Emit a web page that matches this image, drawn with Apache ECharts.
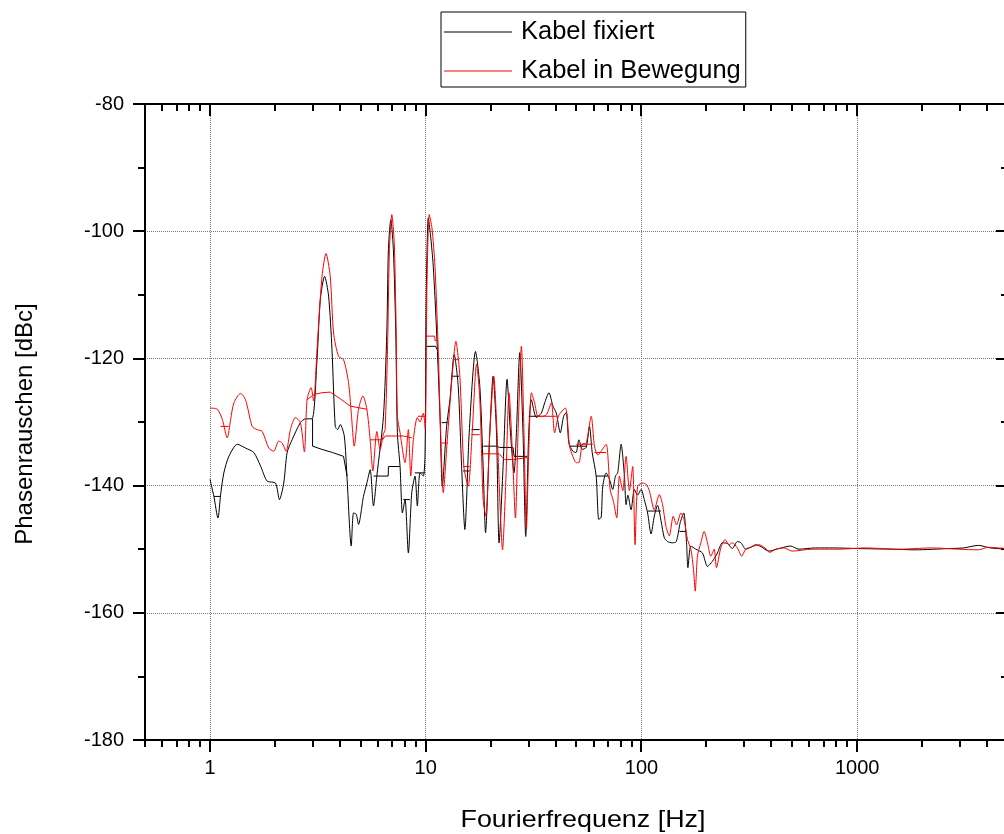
<!DOCTYPE html>
<html><head><meta charset="utf-8">
<script src="https://cdn.jsdelivr.net/npm/echarts@6/dist/echarts.min.js"></script>
<style>html,body{margin:0;padding:0;background:#fff}#c{width:1004px;height:834px}</style>
</head><body><div id="c"></div>
<script>
// ---- data ----
const seriesNames = ['Kabel fixiert', 'Kabel in Bewegung'];

const fixFreq = [1.00,1.043,1.089,1.12,1.16,1.224,1.339,1.462,1.597,1.715,1.842,2.012,2.10,2.198,2.279,2.403,2.625,2.769,2.973,3.135,3.248,3.40,3.548,3.678,3.808,3.904,4.018,4.194,4.315,4.517,4.629,4.764,4.882,5.147,5.338,5.528,5.726,5.936,6.37,6.603,6.716,6.89,7.083,7.267,7.392,7.607,7.80,8.02,8.31,8.618,8.925,9.146,9.412,9.748,9.93,10.06,10.28,10.52,10.84,11.24,11.65,11.94,12.50,12.95,13.56,14.15,14.67,15.19,15.91,17.02,17.82,18.46,18.94,19.82,20.53,21.29,21.88,22.84,23.83,24.71,25.67,26.33,27.28,28.25,29.08,30.03,30.90,32.58,34.36,35.59,37.25,38.87,40.31,42.06,43.57,44.84,46.09,48.10,49.77,51.28,53.17,55.46,57.44,59.12,61.69,63.42,65.06,66.18,68.62,71.08,73.61,75.76,77.62,80.48,83.37,84.88,86.53,89.51,92.73,96.0,99.6,103.1,106.8,110.8,114.7,118.8,123.2,127.6,132.2,138.9,145.0,151.3,157.0,161.8,164.2,169.5,178.7,191.8,202.3,213.3,225.0,237.3,250.2,263.9,278.3,289.5,304.3,321.0,338.5,358.1,389.9,433.8,491.3,536.6,641.0,778.7,1016,1448,1858,2648,3106,3643,4140,5000];
const fixVal = [-139.0,-141.7,-145.1,-141.5,-138.0,-135.4,-133.5,-134.1,-134.8,-136.9,-139.3,-139.6,-142.2,-139.6,-134.8,-132.8,-130.1,-129.5,-129.5,-120.2,-110.7,-107.1,-110.2,-118.6,-130.7,-131.2,-130.4,-132.2,-138.5,-149.5,-144.3,-144.5,-146.1,-141.7,-139.6,-137.5,-143.2,-138.5,-129.1,-116.0,-102.9,-98.2,-102.9,-116.0,-131.7,-137.0,-144.3,-142.2,-150.6,-141.1,-138.5,-143.2,-138.0,-138.5,-135.0,-110.0,-97.9,-100.5,-105.5,-116.0,-129.1,-140.1,-130.7,-126.5,-119.4,-124.4,-137.0,-146.9,-131.7,-118.9,-124.4,-137.0,-147.4,-131.7,-122.8,-131.7,-149.0,-137.0,-123.3,-131.7,-138.0,-131.7,-119.1,-131.7,-148.0,-131.7,-126.5,-129.3,-128.6,-127.0,-125.4,-127.5,-128.6,-131.7,-129.1,-128.5,-133.3,-134.6,-134.8,-132.8,-134.3,-134.0,-130.7,-134.8,-138.5,-145.3,-145.0,-140.1,-138.0,-139.0,-140.6,-138.5,-138.0,-133.5,-138.5,-143.0,-141.5,-143.8,-140.6,-141.5,-140.6,-142.2,-144.3,-147.6,-144.8,-143.1,-145.5,-148.2,-148.8,-149.0,-148.8,-145.8,-144.3,-149.0,-152.9,-149.5,-150.0,-150.6,-152.7,-151.9,-150.6,-149.0,-149.1,-149.9,-148.8,-149.0,-150.0,-149.7,-149.3,-149.6,-150.3,-149.9,-149.5,-150.0,-149.8,-149.8,-149.9,-150.0,-150.1,-149.9,-149.8,-149.4,-149.8,-150.0];

const moveFreq = [1.00,1.082,1.141,1.203,1.247,1.291,1.386,1.462,1.570,1.656,1.747,1.874,1.975,2.084,2.161,2.255,2.36,2.489,2.625,2.74,2.819,2.942,3.024,3.135,3.307,3.451,3.61,3.741,3.947,4.162,4.388,4.517,4.664,4.882,5.115,5.338,5.528,5.689,5.936,6.149,6.37,6.485,6.66,6.789,6.966,7.152,7.29,7.392,7.607,8.02,8.31,8.526,8.764,9.146,9.412,9.748,9.95,10.14,10.39,10.69,11.04,11.43,11.73,12.06,12.59,13.19,13.80,14.40,15.03,15.74,16.42,17.21,17.82,18.46,19.0,19.82,20.68,21.42,22.22,22.69,23.5,24.34,25.23,26.06,26.79,27.77,28.55,29.29,30.03,30.90,32.0,33.15,34.95,36.36,38.22,39.58,41.3,44.36,46.43,48.10,49.87,51.28,53.17,55.46,58.5,60.57,62.87,65.27,68.62,71.61,74.17,76.82,79.06,81.88,84.88,87.94,91.06,93.41,96.0,101.3,105.3,108.8,114.7,121.0,125.3,129.9,134.6,140.4,145.4,152.4,157.9,163.5,169.5,174.3,177.5,181.9,188.5,195.3,202.3,209.7,217.3,222.6,233.3,244.2,254.8,263.9,278.3,291.7,304.3,326.5,350.6,373.8,392.9,418.8,457.5,499.5,616.3,821,1091,1555,2210,2944,3643,4052,4507,5000];
const moveVal = [-127.8,-128.0,-129.6,-132.5,-129.6,-127.0,-125.5,-126.5,-130.7,-131.2,-131.5,-134.1,-134.6,-133.0,-133.3,-134.6,-131.2,-129.3,-130.1,-134.7,-126.5,-124.6,-126.7,-118.6,-107.1,-103.5,-107.1,-116.0,-119.7,-120.2,-123.8,-128.5,-133.8,-128.0,-125.9,-128.0,-132.8,-137.7,-131.5,-134.3,-131.9,-131.2,-118.0,-103.0,-97.4,-102.0,-115.0,-129.1,-131.7,-136.4,-131.2,-138.5,-132.8,-129.3,-130.0,-128.6,-131.0,-108.0,-97.4,-99.5,-105.5,-118.6,-131.7,-141.1,-132.8,-123.8,-117.3,-122.8,-137.0,-140.1,-131.7,-120.9,-126.5,-142.2,-144.8,-131.7,-122.8,-131.7,-144.8,-150.1,-139.6,-125.4,-134.8,-145.1,-131.7,-118.1,-131.7,-146.9,-134.8,-125.4,-127.0,-129.1,-129.1,-128.8,-127.0,-131.7,-129.0,-127.8,-133.8,-135.4,-136.4,-136.4,-133.5,-133.3,-129.1,-133.8,-135.2,-134.5,-133.5,-140.6,-142.5,-145.1,-138.5,-140.8,-135.4,-140.8,-137.0,-149.3,-140.1,-139.6,-139.8,-140.8,-143.8,-141.4,-143.0,-146.4,-147.9,-144.8,-146.2,-144.3,-145.5,-148.5,-150.0,-153.2,-156.6,-151.0,-149.0,-147.2,-149.0,-151.1,-150.0,-152.9,-149.8,-148.5,-149.3,-149.0,-149.8,-151.1,-150.0,-149.6,-149.3,-149.8,-150.5,-150.0,-149.8,-150.3,-150.0,-150.0,-149.8,-150.0,-149.8,-150.0,-150.1,-149.7,-149.8,-149.9];

// coarse (averaged) traces drawn on top of the fine traces, as segments
const fixStepFreq = [[1.043,1.12],[2.99,2.99,3.3,3.7,4.16,4.32],[5.73,6.7,6.72,7.6],[7.87,8.46],[8.9,9.9],[10.06,11.1,11.3],[11.86,12.6],[13.16,14.3],[14.9,16.0],[16.3,17.8],[18.5,21.3,22.0,25.4,25.7,29.5],[30.0,33.5],[46.5,55.5],[61.7,69.9],[106.8,123],[150,161]];
const fixStepVal  = [[-141.7,-141.7],[-129.5,-133.8,-134.3,-134.8,-135.4,-138.5],[-138.5,-138.5,-137.0,-137.0],[-142.2,-142.2],[-138.0,-138.0],[-118.1,-118.1,-118.6],[-130.1,-130.1],[-122.8,-122.8],[-137.7,-137.7],[-131.2,-131.2],[-133.8,-133.8,-134.0,-134.0,-135.4,-135.4],[-129.1,-129.1],[-133.8,-133.8],[-138.5,-138.5],[-144.0,-144.0],[-147.2,-147.2]];
const moveStepFreq = [[1.12,1.22],[2.82,3.02,3.3,3.61,4.0,4.47,5.34],[5.53,6.3,6.5,7.88,7.95,8.62],[9.21,9.93],[10.0,11.0,11.05,11.4],[11.86,12.7],[13.4,14.2],[14.9,16.0],[16.3,17.8],[18.3,21.9,23.2,25.4,25.9,29.7],[32.6,40.3],[49.9,59.6],[60.6,68.5]];
const moveStepVal  = [[-130.7,-130.7],[-126.5,-125.7,-125.4,-125.3,-126.3,-127.5,-128.0],[-132.8,-132.8,-132.2,-132.2,-132.5,-132.5],[-129.1,-129.1],[-116.5,-116.5,-117.2,-117.2],[-133.3,-133.3],[-120.2,-120.2],[-137.0,-137.0],[-132.0,-132.0],[-135.0,-135.0,-135.9,-135.9,-135.6,-135.6],[-129.1,-129.1],[-133.5,-133.5],[-134.8,-134.8]];

// axis ticks / labels
const xMajorTicks = [1, 10, 100, 1000];
const xTickLabels = ['1', '10', '100', '1000'];
const xMinorTicks = [0.5,0.6,0.7,0.8,0.9,2,3,4,5,6,7,8,9,20,30,40,50,60,70,80,90,200,300,400,500,600,700,800,900,2000,3000,4000];
const xMin = 0.5, xMax = 5000;
const yMin = -180, yMax = -80, yStep = 20;

// ---- build ----
function pairs(f, v) { return f.map((x, i) => [x, v[i]]); }
function segs(fs, vs) {
  const out = [];
  fs.forEach((f, k) => {
    f.forEach((x, i) => out.push([x, vs[k][i]]));
    out.push([f[f.length - 1], '-']);
  });
  return out;
}
const tickData = xMajorTicks.map(v => [v, 1]).concat(xMinorTicks.map(v => [v, 0]));

const chart = echarts.init(document.getElementById('c'), null, {renderer: 'canvas'});
const FONT = 'Liberation Sans, Arial, sans-serif';
const grid = {left: 145, right: -4, top: 104, bottom: 94, outerBoundsMode: 'none', containLabel: false};
const dotted = {color: '#7a7a7a', width: 1, type: [1, 1]};

chart.setOption({
  animation: false,
  backgroundColor: '#fff',
  textStyle: {fontFamily: FONT},
  grid: grid,
  legend: {
    data: seriesNames,
    orient: 'vertical',
    left: 441, top: 12,
    padding: [7, 5, 3, 3],
    itemGap: 13,
    icon: 'rect',
    itemWidth: 68, itemHeight: 1,
    borderColor: '#000', borderWidth: 1,
    backgroundColor: '#fff',
    textStyle: {fontSize: 25.5, color: '#000', fontFamily: FONT, padding: [0, 0, 0, 4]},
    selectedMode: false
  },
  xAxis: [{
    type: 'log', logBase: 10, min: xMin, max: xMax, position: 'bottom',
    axisLine: {onZero: false, lineStyle: {color: '#000', width: 2}},
    axisTick: {show: false},
    axisLabel: {
      color: '#000', fontSize: 20, fontFamily: FONT, margin: 18,
      formatter: function (v) {
        const i = xMajorTicks.findIndex(m => Math.abs(m - v) / m < 1e-6);
        return i >= 0 ? xTickLabels[i] : '';
      }
    },
    splitLine: {show: true, lineStyle: dotted}
  }, {
    type: 'log', logBase: 10, min: xMin, max: xMax, position: 'top',
    axisLine: {onZero: false, lineStyle: {color: '#000', width: 2}},
    axisTick: {show: false}, axisLabel: {show: false}, splitLine: {show: false}
  }],
  yAxis: [{
    type: 'value', min: yMin, max: yMax, interval: yStep, position: 'left',
    axisLine: {show: true, onZero: false, lineStyle: {color: '#000', width: 2}},
    axisTick: {show: true, inside: false, length: 12, lineStyle: {color: '#000', width: 2}},
    minorTick: {show: true, splitNumber: 2, length: 7, lineStyle: {color: '#000', width: 2}},
    axisLabel: {color: '#000', fontSize: 20, fontFamily: FONT, margin: 21},
    splitLine: {show: true, lineStyle: dotted}
  }, {
    type: 'value', min: yMin, max: yMax, interval: yStep, position: 'right',
    axisLine: {show: true, onZero: false, lineStyle: {color: '#000', width: 2}},
    axisTick: {show: true, inside: true, length: 12, lineStyle: {color: '#000', width: 2}},
    minorTick: {show: true, splitNumber: 2, length: 7, lineStyle: {color: '#000', width: 2}},
    axisLabel: {show: false}, splitLine: {show: false}
  }],
  graphic: [{
    type: 'text', x: 583, y: 820, scaleX: 1.12, silent: true,
    style: {text: 'Fourierfrequenz [Hz]', x: 0, y: 0, textAlign: 'center', textVerticalAlign: 'middle',
      font: '24px ' + FONT, fill: '#000'}
  }, {
    type: 'text', x: 25, y: 424, rotation: Math.PI / 2, silent: true,
    style: {text: 'Phasenrauschen [dBc]', x: 0, y: 0, textAlign: 'center', textVerticalAlign: 'middle',
      font: '24px ' + FONT, fill: '#000'}
  }],
  series: [{
    name: seriesNames[0], type: 'line', data: pairs(fixFreq, fixVal),
    symbol: 'none', smooth: 0.25, lineStyle: {color: '#000', width: 1}, itemStyle: {color: '#000'}, z: 3
  }, {
    name: seriesNames[1], type: 'line', data: pairs(moveFreq, moveVal),
    symbol: 'none', smooth: 0.25, lineStyle: {color: '#ff0000', width: 1}, itemStyle: {color: '#ff0000'}, z: 4
  }, {
    name: 'fix-avg', type: 'line', data: segs(fixStepFreq, fixStepVal),
    symbol: 'none', connectNulls: false, lineStyle: {color: '#000', width: 1}, itemStyle: {color: '#000'}, z: 3
  }, {
    name: 'move-avg', type: 'line', data: segs(moveStepFreq, moveStepVal),
    symbol: 'none', connectNulls: false, lineStyle: {color: '#ff0000', width: 1}, itemStyle: {color: '#ff0000'}, z: 4
  }, {
    name: 'xticks', type: 'custom', data: tickData, silent: true, clip: false, z: 10,
    renderItem: function (params, api) {
      const v = api.value(0);
      const len = api.value(1) ? 12 : 7;
      const b = api.coord([v, yMin]);
      const t = api.coord([v, yMax]);
      const x = Math.round(b[0]);
      return {type: 'group', children: [
        {type: 'line', shape: {x1: x, y1: Math.round(b[1]), x2: x, y2: Math.round(b[1]) + len}, style: {stroke: '#000', lineWidth: 2}},
        {type: 'line', shape: {x1: x, y1: Math.round(t[1]), x2: x, y2: Math.round(t[1]) + len}, style: {stroke: '#000', lineWidth: 2}}
      ]};
    }
  }]
});
</script></body></html>
